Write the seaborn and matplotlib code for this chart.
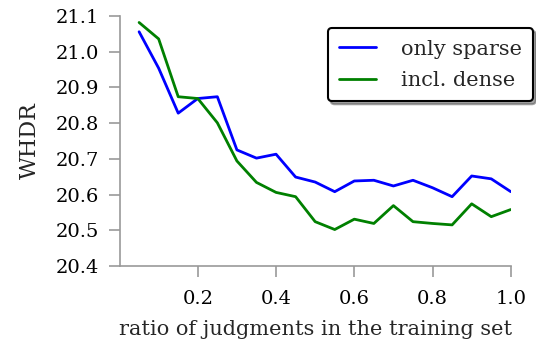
import numpy as np
import pandas as pd
import seaborn as sns
import matplotlib
matplotlib.use("Agg")
import matplotlib.pyplot as plt

ratio = [0.05, 0.10, 0.15, 0.20, 0.25, 0.30, 0.35, 0.40, 0.45, 0.50,
         0.55, 0.60, 0.65, 0.70, 0.75, 0.80, 0.85, 0.90, 0.95, 1.00]
only_sparse = [21.056, 20.954, 20.828, 20.869, 20.874, 20.725, 20.702, 20.713, 20.649, 20.635,
               20.608, 20.638, 20.640, 20.624, 20.640, 20.619, 20.594, 20.652, 20.644, 20.608]
incl_dense = [21.082, 21.036, 20.874, 20.869, 20.801, 20.694, 20.634, 20.606, 20.594, 20.524,
              20.502, 20.531, 20.519, 20.569, 20.524, 20.519, 20.515, 20.574, 20.538, 20.558]
series_names = ["only sparse", "incl. dense"]
colors = ["#0000ff", "#008000"]
xticks = [0.2, 0.4, 0.6, 0.8, 1.0]
yticks = [20.4, 20.5, 20.6, 20.7, 20.8, 20.9, 21.0, 21.1]

df = pd.DataFrame({
    "ratio": ratio * 2,
    "WHDR": only_sparse + incl_dense,
    "series": [series_names[0]] * len(ratio) + [series_names[1]] * len(ratio),
})

sns.set_style("white")
plt.rcParams["font.family"] = ["DejaVu Serif"]
plt.rcParams["mathtext.fontset"] = "dejavuserif"

fig = plt.figure(figsize=(5.36, 3.49), dpi=100)
ax = fig.add_axes([0.223, 0.238, 0.730, 0.716])

sns.lineplot(data=df, x="ratio", y="WHDR", hue="series", palette=colors,
             hue_order=series_names, linewidth=2.0, ax=ax, legend=True)

ax.set_xlim(0, 1.0)
ax.set_ylim(20.4, 21.1)
ax.set_xticks(xticks)
ax.set_xticklabels([f"{t:.1f}" for t in xticks])
ax.set_yticks(yticks)
ax.set_yticklabels([f"{t:.1f}" for t in yticks])
ax.tick_params(axis="both", labelsize=14, colors="#999999", labelcolor="black",
               direction="out", length=8, width=1.2, bottom=True, left=True)
ax.tick_params(axis="y", pad=7)
ax.tick_params(axis="x", pad=9)
for side in ["top", "right"]:
    ax.spines[side].set_visible(False)
for side in ["left", "bottom"]:
    ax.spines[side].set_color("#999999")
    ax.spines[side].set_linewidth(1.2)

ax.set_xlabel("ratio of judgments in the training set", fontsize=15, labelpad=9)
ax.set_ylabel("WHDR", fontsize=16, labelpad=10)

handles, labels = ax.get_legend_handles_labels()
leg = ax.legend(handles, labels, loc="upper right", bbox_to_anchor=(1.057, 0.952),
                borderaxespad=0.0,
                fontsize=15, frameon=True, fancybox=True, shadow=True,
                edgecolor="black", handlelength=1.75, handletextpad=1.2,
                borderpad=0.55, labelspacing=0.6)
leg.get_frame().set_linewidth(1.5)
for ln in leg.get_lines():
    ln.set_linewidth(2.0)

fig.savefig("out.png", dpi=100)
